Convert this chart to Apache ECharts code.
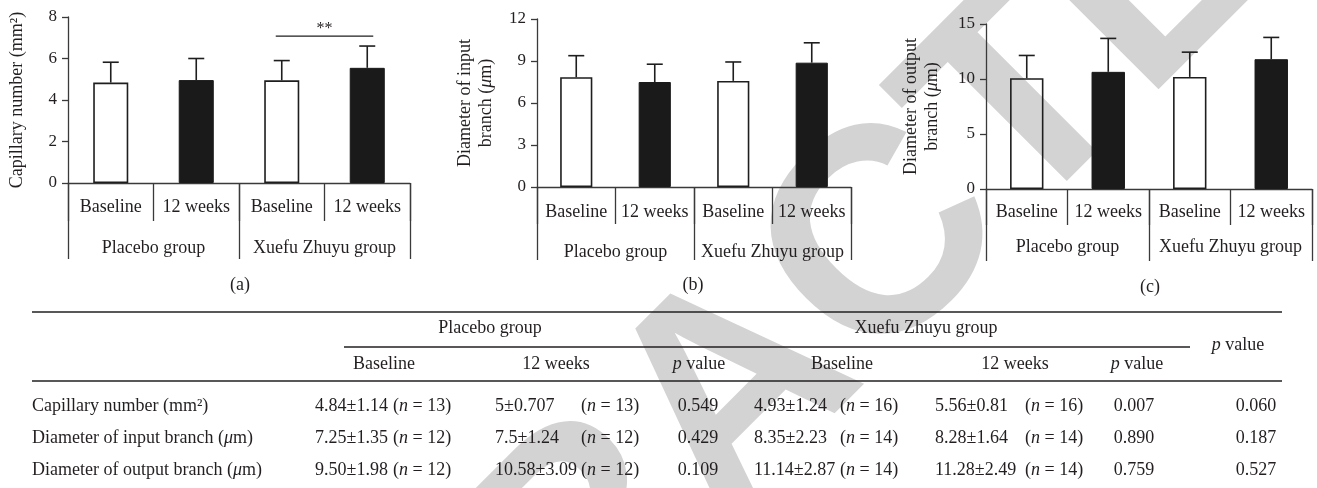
<!DOCTYPE html>
<html><head><meta charset="utf-8">
<script src="https://cdn.jsdelivr.net/npm/echarts@6/dist/echarts.min.js"></script>
<style>html,body{margin:0;padding:0;background:#fff}#c{width:1317px;height:488px}</style>
</head><body><div id="c"></div>
<script>
// ---------- chart data ----------
const categories = ['Baseline', '12 weeks', 'Baseline', '12 weeks'];
const groups = ['Placebo group', 'Xuefu Zhuyu group'];
const capillaryMean = [4.84, 4.96, 4.95, 5.55];
const capillarySd = [0.98, 1.04, 0.95, 1.05];
const inputMean = [7.84, 7.5, 7.58, 8.88];
const inputSd = [1.54, 1.27, 1.35, 1.42];
const outputMean = [10.07, 10.65, 10.19, 11.8];
const outputSd = [2.07, 3.04, 2.25, 1.98];
const capillaryTicks = [0, 2, 4, 6, 8];
const inputTicks = [0, 3, 6, 9, 12];
const outputTicks = [0, 5, 10, 15];
const significance = [[2, 3, 7.08]];
const significanceLabel = '**';

// ---------- table data ----------
const rowLabels = ['Capillary number (mm²)', 'Diameter of input branch (μm)', 'Diameter of output branch (μm)'];
const placeboBaseline = ['4.84±1.14', '7.25±1.35', '9.50±1.98'];
const placeboBaselineN = [13, 12, 12];
const placeboWeek12 = ['5±0.707', '7.5±1.24', '10.58±3.09'];
const placeboWeek12N = [13, 12, 12];
const placeboP = ['0.549', '0.429', '0.109'];
const xuefuBaseline = ['4.93±1.24', '8.35±2.23', '11.14±2.87'];
const xuefuBaselineN = [16, 14, 14];
const xuefuWeek12 = ['5.56±0.81', '8.28±1.64', '11.28±2.49'];
const xuefuWeek12N = [16, 14, 14];
const xuefuP = ['0.007', '0.890', '0.759'];
const betweenP = ['0.060', '0.187', '0.527'];

const SERIF = '"Liberation Serif", "Times New Roman", serif';
const INK = '#231f20';
const AX = '#3a3a3a';
const FS = 18;

const rich = {
  r: {fontFamily: SERIF, fontSize: FS, color: INK, fill: INK},
  i: {fontFamily: SERIF, fontSize: FS, color: INK, fill: INK, fontStyle: 'italic'}
};

function muLabel(s) { // italic μ
  return s.split('μ').map(p => p.length ? '{r|' + p + '}' : '').join('{i|μ}');
}

const panels = [
  {title: 'Capillary number (mm²)', mean: capillaryMean, sd: capillarySd, ticks: capillaryTicks,
   grid: {left: 68, top: 17, width: 342, height: 166}, nameGap: 40, subTick: 38, groupTick: 76, subMargin: 15, groupMargin: 56},
  {title: 'Diameter of input\nbranch (μm)', mean: inputMean, sd: inputSd, ticks: inputTicks,
   grid: {left: 537, top: 19, width: 314, height: 168}, nameGap: 40, subTick: 37, groupTick: 73, subMargin: 16, groupMargin: 56},
  {title: 'Diameter of output\nbranch (μm)', mean: outputMean, sd: outputSd, ticks: outputTicks,
   grid: {left: 986, top: 24, width: 326, height: 165}, nameGap: 43, subTick: 36, groupTick: 72, subMargin: 14, groupMargin: 49}
];

const grid = [], xAxis = [], yAxis = [], series = [];
panels.forEach((p, i) => {
  grid.push(Object.assign({}, p.grid));
  const lineStyle = {color: AX, width: 1.3};
  xAxis.push({type: 'category', gridIndex: i, data: categories, position: 'bottom',
    axisLine: {show: true, lineStyle}, axisTick: {show: true, interval: 0, length: p.subTick, lineStyle},
    axisLabel: {interval: 0, margin: p.subMargin, fontFamily: SERIF, fontSize: FS, color: INK},
    splitLine: {show: false}});
  xAxis.push({type: 'category', gridIndex: i, data: groups, position: 'bottom',
    axisLine: {show: false}, axisTick: {show: true, interval: 0, length: p.groupTick, lineStyle},
    axisLabel: {interval: 0, margin: p.groupMargin, fontFamily: SERIF, fontSize: FS, color: INK},
    splitLine: {show: false}});
  const step = p.ticks[1] - p.ticks[0];
  yAxis.push({type: 'value', gridIndex: i, min: p.ticks[0], max: p.ticks[p.ticks.length - 1], interval: step,
    axisLine: {show: true, lineStyle}, axisTick: {show: true, length: 6, lineStyle},
    axisLabel: {margin: 11, fontFamily: SERIF, fontSize: 17, color: INK},
    splitLine: {show: false},
    name: p.title.split('\n').map(muLabel).join('\n'), nameLocation: 'middle', nameRotate: 90, nameGap: p.nameGap,
    nameTextStyle: {fontFamily: SERIF, fontSize: FS, color: INK, lineHeight: 21, rich: rich}});
  series.push({type: 'bar', xAxisIndex: 2 * i, yAxisIndex: i, barWidth: '41%', z: 3,
    data: p.mean.map((v, k) => ({value: v, itemStyle: k % 2 === 0 ?
      {color: 'rgba(255,255,255,0)', borderColor: '#1e1e1e', borderWidth: 1.6} :
      {color: '#1a1a1a', borderColor: '#1a1a1a', borderWidth: 1}}))});
  series.push({type: 'custom', xAxisIndex: 2 * i, yAxisIndex: i, z: 4,
    data: p.mean.map((v, k) => [k, v, v + p.sd[k]]),
    encode: {x: 0, y: [1, 2]},
    renderItem: function (params, api) {
      const b = api.coord([api.value(0), api.value(1)]);
      const t = api.coord([api.value(0), api.value(2)]);
      const st = {stroke: '#1e1e1e', lineWidth: 1.6};
      return {type: 'group', children: [
        {type: 'line', shape: {x1: b[0], y1: b[1], x2: t[0], y2: t[1]}, style: st},
        {type: 'line', shape: {x1: t[0] - 8, y1: t[1], x2: t[0] + 8, y2: t[1]}, style: st}
      ]};
    }});
});
// significance bracket on panel (a)
series.push({type: 'custom', xAxisIndex: 0, yAxisIndex: 0, z: 4,
  data: significance,
  encode: {x: [0, 1], y: 2},
  renderItem: function (params, api) {
    const a = api.coord([api.value(0), api.value(2)]);
    const b = api.coord([api.value(1), api.value(2)]);
    return {type: 'group', children: [
      {type: 'line', shape: {x1: a[0] - 6, y1: a[1], x2: b[0] + 6, y2: b[1]}, style: {stroke: '#1e1e1e', lineWidth: 1.3}},
      {type: 'text', x: (a[0] + b[0]) / 2, y: a[1] - 7,
       style: {text: significanceLabel, fontFamily: SERIF, fontSize: 16, fill: INK, align: 'center', verticalAlign: 'middle', textAlign: 'center', textVerticalAlign: 'middle'}}
    ]};
  }});

// ---------- graphics: watermark, panel letters, table ----------
function txt(x, y, text, align, opts) {
  return Object.assign({type: 'text', x: x, y: y, z: 5, silent: true,
    style: {text: text, rich: rich, fontFamily: SERIF, fontSize: FS, fill: INK,
      align: align, verticalAlign: 'middle', textAlign: align, textVerticalAlign: 'middle'}}, opts || {});
}
function rule(x1, x2, y, w) {
  return {type: 'line', z: 5, silent: true, shape: {x1: x1, y1: y, x2: x2, y2: y}, style: {stroke: INK, lineWidth: w || 1.4}};
}
const g = [];
g.push({type: 'text', x: 738, y: 396, rotation: Math.PI / 4, z: -10, silent: true,
  style: {text: 'RETRACTED', fontFamily: '"Liberation Sans", Arial, sans-serif', fontWeight: 'bold', fontSize: 292,
    fill: '#d3d3d3', align: 'center', verticalAlign: 'middle', textAlign: 'center', textVerticalAlign: 'middle'}});
g.push(txt(240, 285, '{r|(a)}', 'center'));
g.push(txt(693, 285, '{r|(b)}', 'center'));
g.push(txt(1150, 287, '{r|(c)}', 'center'));

const T = {left: 32, right: 1282, top: 312, midY: 347, midX1: 344, midX2: 1190, head: 381,
  groupY: 328, subY: 364, rows: [406, 438, 470]};
g.push(rule(T.left, T.right, T.top, 1.6));
g.push(rule(T.midX1, T.midX2, T.midY, 1.4));
g.push(rule(T.left, T.right, T.head, 1.6));
g.push(txt(490, T.groupY, '{r|' + groups[0] + '}', 'center'));
g.push(txt(926, T.groupY, '{r|' + groups[1] + '}', 'center'));
g.push(txt(1238, 345, '{i|p}{r| value}', 'center'));
const subHead = [[384, '{r|Baseline}'], [556, '{r|12 weeks}'], [699, '{i|p}{r| value}'],
  [842, '{r|Baseline}'], [1015, '{r|12 weeks}'], [1137, '{i|p}{r| value}']];
subHead.forEach(h => g.push(txt(h[0], T.subY, h[1], 'center')));
const nTxt = n => '{r|(}{i|n}{r| = ' + n + ')}';
rowLabels.forEach((lab, r) => {
  const y = T.rows[r];
  g.push(txt(T.left, y, muLabel(lab), 'left'));
  g.push(txt(315, y, '{r|' + placeboBaseline[r] + '}', 'left'));
  g.push(txt(393, y, nTxt(placeboBaselineN[r]), 'left'));
  g.push(txt(495, y, '{r|' + placeboWeek12[r] + '}', 'left'));
  g.push(txt(581, y, nTxt(placeboWeek12N[r]), 'left'));
  g.push(txt(698, y, '{r|' + placeboP[r] + '}', 'center'));
  g.push(txt(754, y, '{r|' + xuefuBaseline[r] + '}', 'left'));
  g.push(txt(840, y, nTxt(xuefuBaselineN[r]), 'left'));
  g.push(txt(935, y, '{r|' + xuefuWeek12[r] + '}', 'left'));
  g.push(txt(1025, y, nTxt(xuefuWeek12N[r]), 'left'));
  g.push(txt(1134, y, '{r|' + xuefuP[r] + '}', 'center'));
  g.push(txt(1256, y, '{r|' + betweenP[r] + '}', 'center'));
});

const chart = echarts.init(document.getElementById('c'), null, {renderer: 'canvas'});
chart.setOption({animation: false, backgroundColor: '#fff', grid, xAxis, yAxis, series, graphic: {elements: g}});
</script></body></html>
